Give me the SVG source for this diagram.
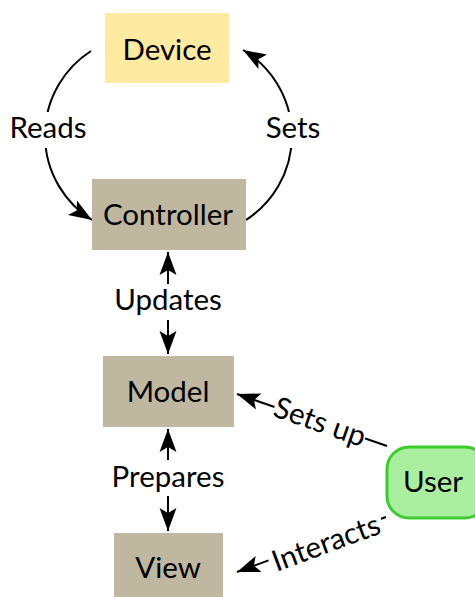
<svg xmlns="http://www.w3.org/2000/svg" width="475" height="597" viewBox="0 0 475 597">
<style>
text{font-family:Lato,"Noto Sans","DejaVu Sans",sans-serif;font-size:29.5px;fill:#000;text-anchor:middle}
.tan{fill:#bfb7a0}
.edge{fill:none;stroke:#000;stroke-width:2}
.bg{fill:#fff}
</style>
<defs>
<marker id="ah" markerUnits="userSpaceOnUse" markerWidth="24" markerHeight="18" refX="23" refY="9" orient="auto-start-reverse" viewBox="0 0 24 18">
<path d="M0,0.5 L23,9 L0,17.5 L5,9 z" fill="#000"/>
</marker>
</defs>
<rect width="475" height="597" fill="#fff"/>
<g id="connectors">
<path class="edge" d="M91,51 A100,100 0 0 0 92,220" marker-end="url(#ah)"/>
<path class="edge" d="M246,220 A100,100 0 0 0 243,50" marker-end="url(#ah)"/>
<path class="edge" d="M168,252 L168,354" marker-start="url(#ah)" marker-end="url(#ah)"/>
<path class="edge" d="M168,429 L168,531" marker-start="url(#ah)" marker-end="url(#ah)"/>
<path class="edge" d="M387,446 L237,394" marker-end="url(#ah)"/>
<path class="edge" d="M386,517 L237,572" marker-end="url(#ah)"/>
<rect class="bg" x="6" y="112" width="84" height="36"/>
<text x="48" y="138">Reads</text>
<rect class="bg" x="262" y="112" width="62" height="36"/>
<text x="293" y="138">Sets</text>
<rect class="bg" x="110" y="284" width="116" height="36"/>
<text x="168" y="310">Updates</text>
<rect class="bg" x="106" y="460" width="124" height="36"/>
<text x="168" y="487">Prepares</text>
<g transform="rotate(19.2 320 422)">
<rect class="bg" x="272" y="405" width="96" height="34"/>
<text x="320" y="432">Sets up</text>
</g>
<g transform="rotate(-20.3 326 543)">
<rect class="bg" x="266" y="526" width="120" height="34"/>
<text x="326" y="553">Interacts</text>
</g>
</g>
<g id="device"><rect x="105" y="13" width="124" height="70" fill="#feeaa0"/><text x="167" y="60">Device</text></g>
<g id="controller"><rect class="tan" x="92" y="179" width="154" height="71"/><text x="168" y="225">Controller</text></g>
<g id="model"><rect class="tan" x="103" y="356" width="131" height="71"/><text x="168" y="402">Model</text></g>
<g id="view"><rect class="tan" x="114" y="533" width="109" height="71"/><text x="168" y="578">View</text></g>
<g id="user"><rect x="387" y="447" width="100" height="71" rx="22" fill="#aaeea0" stroke="#3ccc30" stroke-width="3"/><text x="433" y="492">User</text></g>
</svg>
